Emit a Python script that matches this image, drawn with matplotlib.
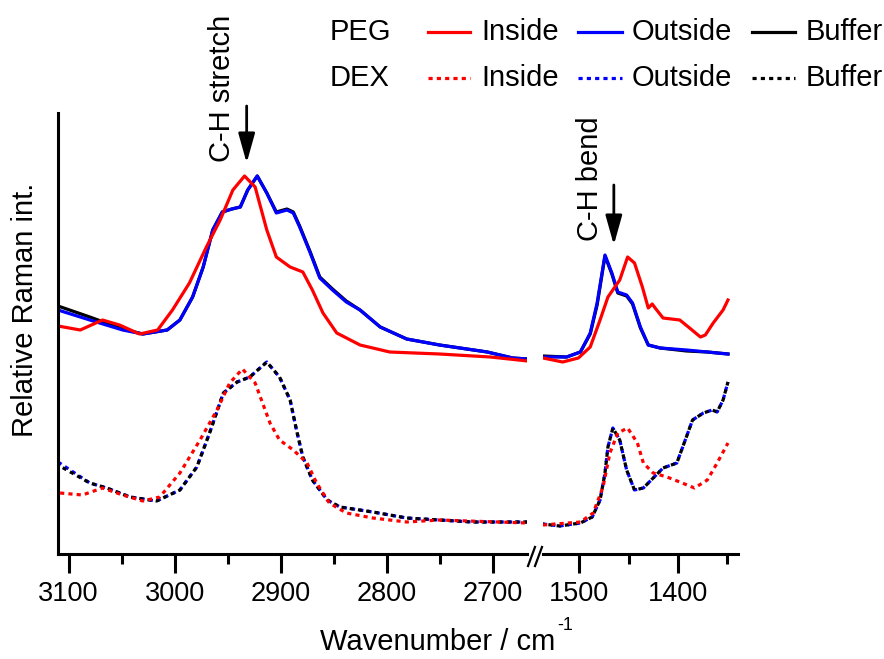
import matplotlib
matplotlib.use("Agg")
import matplotlib.pyplot as plt
from matplotlib.lines import Line2D

plt.rcParams['font.family'] = ['Liberation Sans', 'DejaVu Sans']

# ---------------- data (relative Raman intensity, arbitrary units) ----------------
# C-H stretch region (left panel)
peg_out_wn_hi = [3110, 3080, 3049, 3030, 3007, 2995, 2983, 2973, 2964, 2955, 2946, 2938, 2931, 2922,
                 2913, 2904, 2894, 2888, 2882, 2872, 2863, 2851, 2838, 2825, 2806, 2781, 2750, 2705, 2681, 2667]
peg_out_hi = [2.44, 2.34, 2.24, 2.20, 2.24, 2.34, 2.57, 2.87, 3.24, 3.42, 3.45, 3.47, 3.64, 3.78,
              3.61, 3.41, 3.44, 3.41, 3.27, 3.01, 2.76, 2.64, 2.52, 2.44, 2.27, 2.15, 2.09, 2.02, 1.96, 1.95]
peg_buf_hi = [2.48, 2.37, 2.25, 2.20, 2.24, 2.34, 2.57, 2.87, 3.24, 3.42, 3.45, 3.47, 3.64, 3.78,
              3.61, 3.42, 3.45, 3.42, 3.28, 3.02, 2.77, 2.65, 2.53, 2.44, 2.27, 2.15, 2.09, 2.02, 1.96, 1.95]

peg_in_wn_hi = [3110, 3089, 3068, 3052, 3033, 3016, 3002, 2986, 2970, 2957, 2945, 2934, 2924, 2913,
                2904, 2891, 2879, 2870, 2860, 2847, 2825, 2797, 2750, 2702, 2667]
peg_in_hi = [2.28, 2.24, 2.34, 2.29, 2.20, 2.24, 2.44, 2.71, 3.07, 3.34, 3.64, 3.78, 3.67, 3.24,
             2.97, 2.87, 2.82, 2.64, 2.41, 2.21, 2.09, 2.02, 2.00, 1.97, 1.93]

dex_out_wn_hi = [3110, 3080, 3064, 3042, 3017, 2995, 2979, 2967, 2954, 2941, 2929, 2913, 2901, 2891,
                 2885, 2879, 2870, 2856, 2844, 2813, 2781, 2750, 2719, 2667]
dex_out_hi = [0.92, 0.71, 0.66, 0.57, 0.53, 0.64, 0.87, 1.21, 1.61, 1.72, 1.77, 1.92, 1.77, 1.54,
              1.24, 0.97, 0.74, 0.54, 0.47, 0.42, 0.36, 0.34, 0.32, 0.32]
dex_buf_hi = [0.89, 0.71, 0.66, 0.57, 0.53, 0.64, 0.87, 1.21, 1.61, 1.72, 1.77, 1.92, 1.77, 1.54,
              1.24, 0.97, 0.74, 0.54, 0.47, 0.42, 0.36, 0.34, 0.32, 0.32]

dex_in_wn_hi = [3108, 3087, 3068, 3049, 3030, 3014, 2995, 2976, 2960, 2948, 2936, 2924, 2910, 2901,
                2888, 2875, 2866, 2854, 2838, 2813, 2781, 2750, 2667]
dex_in_hi = [0.61, 0.59, 0.66, 0.59, 0.53, 0.57, 0.81, 1.14, 1.44, 1.71, 1.85, 1.71, 1.31, 1.14,
             1.04, 0.91, 0.71, 0.51, 0.41, 0.36, 0.32, 0.34, 0.31]

# C-H bend region (right panel)
peg_out_wn_lo = [1537, 1513, 1499, 1489, 1482, 1474, 1467, 1461, 1452, 1446, 1438, 1430, 1418, 1391, 1370, 1349]
peg_out_lo = [1.97, 1.97, 2.02, 2.21, 2.51, 2.99, 2.81, 2.62, 2.59, 2.51, 2.27, 2.09, 2.06, 2.04, 2.02, 2.00]
peg_buf_lo = [1.98, 1.97, 2.02, 2.20, 2.49, 2.98, 2.80, 2.61, 2.58, 2.50, 2.26, 2.09, 2.06, 2.03, 2.02, 2.00]

peg_in_wn_lo = [1537, 1517, 1501, 1489, 1479, 1471, 1459, 1451, 1444, 1436, 1430, 1426, 1423, 1415, 1398,
                1388, 1377, 1372, 1364, 1354, 1349]
peg_in_lo = [1.96, 1.92, 1.96, 2.07, 2.34, 2.57, 2.74, 2.97, 2.91, 2.67, 2.46, 2.50, 2.46, 2.36, 2.34,
             2.26, 2.17, 2.19, 2.31, 2.44, 2.54]

dex_out_wn_lo = [1537, 1520, 1499, 1487, 1479, 1474, 1471, 1466, 1459, 1452, 1444, 1435, 1425, 1415,
                 1401, 1395, 1385, 1374, 1365, 1360, 1354, 1349]
dex_out_lo = [0.30, 0.28, 0.31, 0.37, 0.54, 0.81, 1.07, 1.26, 1.14, 0.84, 0.64, 0.66, 0.76, 0.86,
              0.91, 1.07, 1.34, 1.41, 1.44, 1.42, 1.54, 1.72]
dex_buf_lo = dex_out_lo

dex_in_wn_lo = [1537, 1499, 1486, 1476, 1469, 1461, 1451, 1441, 1435, 1425, 1411, 1398, 1383, 1370, 1360, 1349]
dex_in_lo = [0.29, 0.32, 0.41, 0.67, 1.01, 1.21, 1.26, 1.11, 0.91, 0.81, 0.77, 0.72, 0.66, 0.74, 0.91, 1.11]

major_hi = [3100, 3000, 2900, 2800, 2700]
minor_hi = [3050, 2950, 2850, 2750]
major_lo = [1500, 1400]
minor_lo = [1450, 1350]

legend_rows = ["PEG", "DEX"]
legend_labels = ["Inside", "Outside", "Buffer"]
legend_colors = ["#ff0000", "#0000ff", "#000000"]

# ---------------- figure ----------------
W, H = 884, 659
fig = plt.figure(figsize=(W / 100, H / 100), dpi=100)

def fx(px):
    return px / W

def fy(py):
    return 1 - py / H

bottom, top = fy(554), fy(113)
ax1 = fig.add_axes([fx(58), bottom, fx(527) - fx(58), top - bottom])
ax2 = fig.add_axes([fx(543), bottom, fx(738.3) - fx(543), top - bottom])

lw = 2.3
dot = (0, (1.3, 1.3))
RED, BLUE, BLACK = "#ff0000", "#0000ff", "#000000"
TXT = 21

for ax, d in ((ax1, 'hi'), (ax2, 'lo')):
    pass

ax1.plot(peg_out_wn_hi, peg_buf_hi, color=BLACK, lw=lw)
ax1.plot(peg_out_wn_hi, peg_out_hi, color=BLUE, lw=lw)
ax1.plot(peg_in_wn_hi, peg_in_hi, color=RED, lw=lw)
ax1.plot(dex_out_wn_hi, dex_out_hi, color=BLUE, lw=lw, ls=dot)
ax1.plot(dex_out_wn_hi, dex_buf_hi, color=BLACK, lw=lw, ls=(0.9, (1.3, 1.3)))
ax1.plot(dex_in_wn_hi, dex_in_hi, color=RED, lw=lw, ls=dot)

ax2.plot(peg_out_wn_lo, peg_buf_lo, color=BLACK, lw=lw)
ax2.plot(peg_out_wn_lo, peg_out_lo, color=BLUE, lw=lw)
ax2.plot(peg_in_wn_lo, peg_in_lo, color=RED, lw=lw)
ax2.plot(dex_out_wn_lo, dex_out_lo, color=BLUE, lw=lw, ls=dot)
ax2.plot(dex_out_wn_lo, dex_buf_lo, color=BLACK, lw=lw, ls=(0.9, (1.3, 1.3)))
ax2.plot(dex_in_wn_lo, dex_in_lo, color=RED, lw=lw, ls=dot)

ax1.set_xlim(3110, 2667.5)
ax2.set_xlim(1537, 1338.5)
for ax in (ax1, ax2):
    ax.set_ylim(0, 4.41)
    ax.set_yticks([])
    ax.spines['top'].set_visible(False)
    ax.spines['right'].set_visible(False)
    ax.spines['bottom'].set_linewidth(2.2)
    ax.spines['left'].set_linewidth(2.2)
    ax.patch.set_visible(False)
    ax.tick_params(axis='x', which='major', direction='out', length=13.5, width=2.2,
                   labelsize=19.5, pad=6)
    ax.tick_params(axis='x', which='minor', direction='out', length=7.5, width=2.2)
ax2.spines['left'].set_visible(False)

ax1.set_xticks(major_hi)
ax1.set_xticks(minor_hi, minor=True)
ax2.set_xticks(major_lo)
ax2.set_xticks(minor_lo, minor=True)

# break marks
for x0 in (528, 535):
    fig.add_artist(Line2D([fx(x0), fx(x0 + 7)], [fy(566), fy(547)], color='k', lw=1.6))

# axis labels
fig.text(fx(555), fy(642), "Wavenumber / cm", fontsize=TXT, ha='right', va='center')
fig.text(fx(557), fy(625), "-1", fontsize=13, ha='left', va='center')
fig.text(fx(25), fy(310), "Relative Raman int.", fontsize=TXT, rotation=90, ha='center', va='center')

# annotations
arrow = dict(arrowstyle='-|>,head_length=1.0,head_width=0.28', mutation_scale=18,
             lw=2.0, color='k', shrinkA=0, shrinkB=0)
ax1.annotate("", xy=(2932, 3.91), xytext=(2932, 4.48), arrowprops=arrow, annotation_clip=False)
ax2.annotate("", xy=(1465, 3.09), xytext=(1465, 3.69), arrowprops=arrow, annotation_clip=False)
fig.text(fx(222), fy(88), "C-H stretch", fontsize=TXT, rotation=90, ha='center', va='center')
fig.text(fx(590), fy(179), "C-H bend", fontsize=TXT, rotation=90, ha='center', va='center')

# legend (manual grid)
row_y = [32, 78]
line_x = [(428, 470), (578, 622), (752, 795)]
text_x = [481, 632, 806]
for r, (name, yy) in enumerate(zip(legend_rows, row_y)):
    fig.text(fx(330), fy(yy), name, fontsize=TXT, ha='left', va='center')
    for c in range(3):
        ls = '-' if r == 0 else dot
        fig.add_artist(Line2D([fx(line_x[c][0]), fx(line_x[c][1])], [fy(yy), fy(yy)],
                              color=legend_colors[c], lw=lw, ls=ls))
        fig.text(fx(text_x[c]), fy(yy), legend_labels[c], fontsize=TXT, ha='left', va='center')

fig.savefig("out.png", dpi=100)
